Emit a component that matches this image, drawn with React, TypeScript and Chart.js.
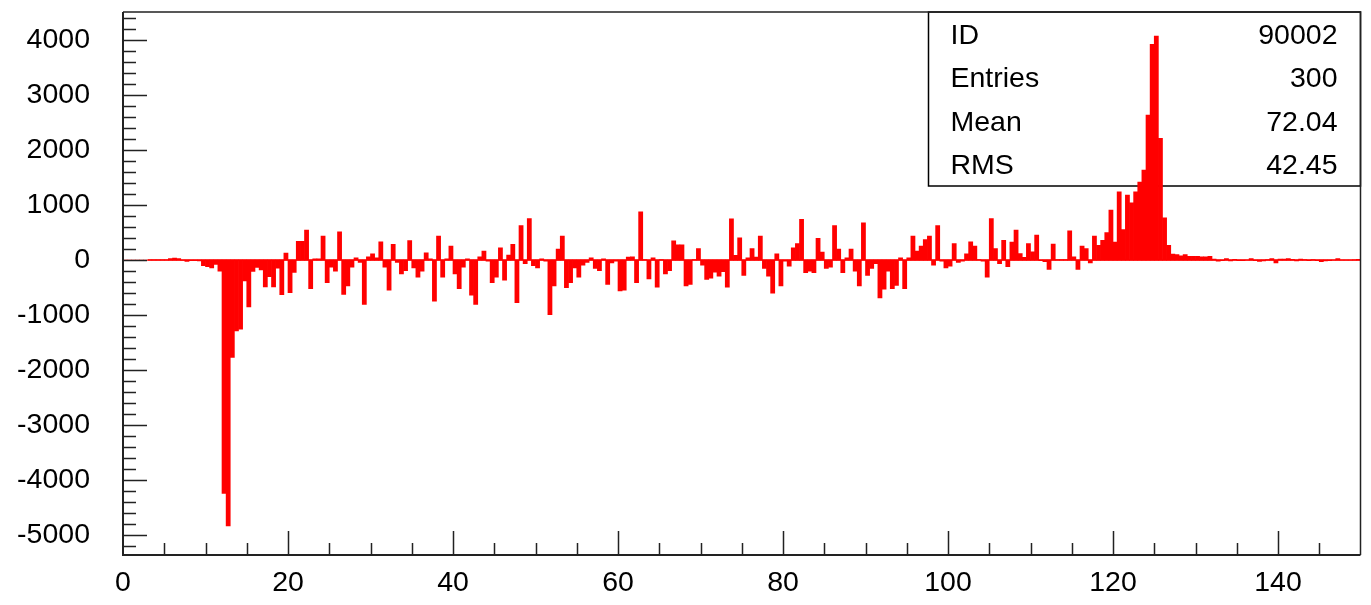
import React, { useEffect, useRef } from "react";
import { Chart, registerables } from "chart.js";

Chart.register(...registerables);

// ---- data ----
const binWidth = 0.5;
const xMin = 0;
const xMax = 150;
const yMin = -5360;
const yMax = 4510;

// 300 bins, 0..150 step 0.5
const binValues: number[] = [
  0, 0, 0, 0, 0, 0, 5, 5, 5, 5,
  5, 30, 35, 30, -5, -25, -10, -10, -15, -100,
  -120, -140, -80, -200, -4240, -4830, -1770, -1285, -1255, -376,
  -850, -206, -133, -180, -485, -300, -485, -145, -630, 127,
  -590, -225, 340, 340, 545, -520, 25, 25, 436, -410,
  -127, -200, 515, -625, -470, -127, 40, -40, -806, 60,
  115, 40, 333, -127, -545, 285, -40, -250, -190, 357,
  -140, -310, -200, 133, 25, -745, 436, -310, 25, 255,
  -250, -520, -127, 25, -636, -806, 60, 163, -20, -410,
  -310, 224, -365, 90, 285, -775, 630, -65, 757, -100,
  -140, 25, -20, -990, -470, 200, 436, -500, -410, -140,
  -310, -90, -40, 40, -150, -190, 25, -440, -50, -20,
  -560, -545, 55, 60, -410, 880, 10, -340, 40, -490,
  10, -250, -190, 350, 280, 280, -470, -440, 10, 210,
  -90, -350, -330, -220, -290, -210, -490, 750, 85, 405,
  -280, 40, 210, 55, 436, -150, -290, -600, 115, -470,
  -20, -110, 224, 300, 740, -230, -200, -230, 395, 145,
  -150, -130, 630, 200, -230, 40, 200, -200, -470, 680,
  -280, -150, -65, -685, -530, -200, -520, -460, 40, -520,
  40, 436, 163, 255, 375, 436, -90, 630, -20, -140,
  -110, 300, -40, -20, 115, 333, 255, 10, -20, -310,
  757, 210, -65, 360, -120, 330, 545, 120, 50, 300,
  150, 455, -10, -30, -170, 290, 10, 10, 10, 533,
  60, -170, 255, 212, -50, 436, 270, 360, 500, 910,
  330, 1240, 557, 1180, 1040, 1240, 1420, 1636, 2636, 3921,
  4073, 2212, 770, 270, 110, 100, 80, 100, 70, 70,
  70, 60, 60, 70, 20, -20, -10, 30, -15, 15,
  -10, -10, 0, 30, -10, -25, -15, 10, 30, -50,
  20, 20, 30, 15, -15, 20, 10, -10, 10, -10,
  -30, -15, -10, 0, 30, 0, 0, 0, 5, 15,
];

const xTickValues = [0, 20, 40, 60, 80, 100, 120, 140];
const yTickValues = [-5000, -4000, -3000, -2000, -1000, 0, 1000, 2000, 3000, 4000];
const xMinorStep = 5;
const yMinorStep = 200;

const statLabels = ["ID", "Entries", "Mean", "RMS"];
const statValues = ["90002", "300", "72.04", "42.45"];

const FONT = "'Liberation Sans', Arial, sans-serif";
const RED = "#ff0000";

const framePlugin = {
  id: "rootFrame",
  beforeDatasetsDraw(chart: any) {
    const { ctx, chartArea } = chart;
    const boxW = 432;
    const boxH = 174;
    const right = chartArea.right;
    const left = right - boxW;
    const top = chartArea.top;
    ctx.save();
    ctx.strokeStyle = "#000";
    ctx.lineWidth = 1.5;
    ctx.strokeRect(left, top, boxW, boxH);
    ctx.fillStyle = "#000";
    ctx.font = `28.5px ${FONT}`;
    ctx.textBaseline = "alphabetic";
    const rowH = boxH / statLabels.length;
    statLabels.forEach((lab, i) => {
      const baseY = top + rowH * (i + 0.5) + 10;
      ctx.textAlign = "left";
      ctx.fillText(lab, left + 22, baseY);
      ctx.textAlign = "right";
      ctx.fillText(statValues[i], right - 23, baseY);
    });
    ctx.restore();
  },
  afterDatasetsDraw(chart: any) {
    const { ctx, chartArea, scales } = chart;
    const xs = scales.x;
    const ys = scales.y;
    const { left, right, top, bottom } = chartArea;
    ctx.save();
    ctx.strokeStyle = "#222";
    ctx.lineWidth = 1.5;
    ctx.beginPath();
    ctx.moveTo(left, top);
    ctx.lineTo(right, top);
    ctx.lineTo(right, bottom);
    ctx.stroke();
    ctx.lineWidth = 2;
    ctx.beginPath();
    ctx.moveTo(left, top);
    ctx.lineTo(left, bottom);
    ctx.lineTo(right, bottom);
    ctx.stroke();
    ctx.lineWidth = 1.5;
    ctx.beginPath();
    const yStart = Math.ceil(yMin / yMinorStep) * yMinorStep;
    for (let v = yStart; v <= yMax; v += yMinorStep) {
      const p = Math.round(ys.getPixelForValue(v)) + 0.5;
      const len = yTickValues.includes(v) ? 24 : 13;
      ctx.moveTo(left, p);
      ctx.lineTo(left + len, p);
    }
    for (let v = xMin + xMinorStep; v < xMax; v += xMinorStep) {
      const p = Math.round(xs.getPixelForValue(v)) + 0.5;
      const len = xTickValues.includes(v) ? 24 : 12;
      ctx.moveTo(p, bottom);
      ctx.lineTo(p, bottom - len);
    }
    ctx.stroke();
    ctx.restore();
  },
};

export default function App() {
  const canvasRef = useRef<HTMLCanvasElement | null>(null);

  useEffect(() => {
    document.body.style.margin = "0";
    const canvas = canvasRef.current;
    if (!canvas) return;

    const barData = binValues.map((v, i) => ({ x: xMin + (i + 0.5) * binWidth, y: v }));
    const firstFilled = binValues.findIndex((v) => v !== 0);
    const baseline = [
      { x: xMin + firstFilled * binWidth, y: 0 },
      { x: xMax, y: 0 },
    ];

    const chart = new Chart(canvas, {
      type: "bar",
      data: {
        datasets: [
          {
            type: "line",
            data: baseline,
            borderColor: RED,
            borderWidth: 1.5,
            pointRadius: 0,
            order: 2,
          } as any,
          {
            type: "bar",
            data: barData,
            backgroundColor: RED,
            borderWidth: 0,
            barPercentage: 1,
            categoryPercentage: 1,
            order: 1,
          } as any,
        ],
      },
      options: {
        responsive: false,
        animation: false,
        devicePixelRatio: 1,
        layout: { padding: { top: 12, right: 10.5, left: 0, bottom: 0 } },
        plugins: {
          legend: { display: false },
          tooltip: { enabled: false },
          title: { display: false },
        },
        scales: {
          x: {
            type: "linear",
            min: xMin,
            max: xMax,
            offset: false,
            grid: { display: false, drawTicks: false },
            border: { display: false },
            afterBuildTicks: (s: any) => {
              s.ticks = xTickValues.map((v) => ({ value: v }));
            },
            ticks: {
              autoSkip: false,
              maxRotation: 0,
              padding: 11,
              color: "#000",
              font: { family: FONT, size: 28.5 },
              callback: (v: any) => String(v),
            },
            afterFit: (s: any) => {
              s.height = 50;
              s.paddingLeft = 0;
              s.paddingRight = 0;
            },
          },
          y: {
            type: "linear",
            min: yMin,
            max: yMax,
            grid: { display: false, drawTicks: false },
            border: { display: false },
            afterBuildTicks: (s: any) => {
              s.ticks = yTickValues.map((v) => ({ value: v }));
            },
            ticks: {
              autoSkip: false,
              padding: 33,
              color: "#000",
              font: { family: FONT, size: 28.5 },
              callback: (v: any) => String(v),
            },
            afterFit: (s: any) => {
              s.width = 123;
              s.paddingTop = 0;
              s.paddingBottom = 0;
            },
          },
        },
      },
      plugins: [framePlugin],
    });

    return () => chart.destroy();
  }, []);

  return (
    <div style={{ width: 1371, height: 605, background: "#fff" }}>
      <canvas ref={canvasRef} width={1371} height={605} style={{ display: "block", width: 1371, height: 605 }} />
    </div>
  );
}
